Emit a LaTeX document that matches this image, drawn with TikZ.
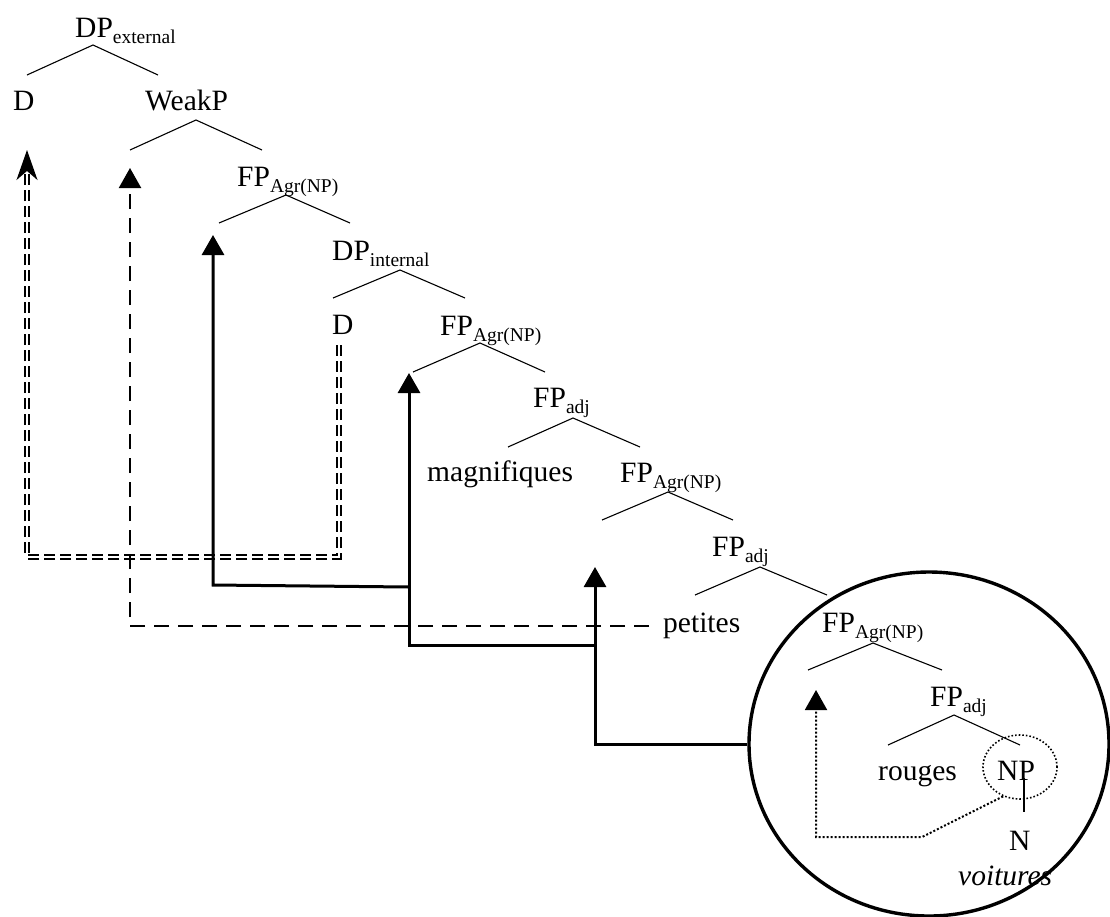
\documentclass[tikz,border=0pt]{standalone}
\usepackage{fontspec}
\setmainfont{Liberation Serif}
\usetikzlibrary{arrows.meta,shapes.geometric}
\newcommand\sbx[1]{\raisebox{-6pt}{\fontsize{19.5}{20}\selectfont #1}}
\tikzset{
  lab/.style={anchor=base west, inner sep=0pt, font=\fontsize{29.5}{30}\selectfont},
  branch/.style={line width=1.1pt},
  thickarr/.style={line width=3pt, -{Triangle[length=20pt,width=22pt]}},
  thickln/.style={line width=3pt},
  dblarr/.style={line width=1.4pt, double, double distance=2.4pt, dash pattern=on 11pt off 5pt, -{Stealth[length=30pt,width=21pt,inset=9pt]}},
  dasharr/.style={line width=2.2pt, dash pattern=on 15pt off 9pt, -{Triangle[length=20pt,width=22pt]}},
  dotarr/.style={line width=2pt, dotted, -{Triangle[length=20pt,width=22pt]}},
}
\begin{document}
\begin{tikzpicture}[x=1pt,y=-1pt]
\useasboundingbox (0,0) rectangle (1110,916);
% text nodes
\node[lab] (dpext) at (75,37) {DP\sbx{external}};
\node[lab] (dext) at (13,110) {D};
\node[lab] (weakp) at (145,110) {WeakP};
\node[lab] (fp1) at (237,186) {FP\sbx{Agr(NP)}};
\node[lab] (dpint) at (332,260) {DP\sbx{internal}};
\node[lab] (dint) at (332,334) {D};
\node[lab] (fp2) at (440,335) {FP\sbx{Agr(NP)}};
\node[lab] (fpadj1) at (533,407) {FP\sbx{adj}};
\node[lab] (magn) at (427,481) {magnifiques};
\node[lab] (fp3) at (620,482) {FP\sbx{Agr(NP)}};
\node[lab] (fpadj2) at (712,556) {FP\sbx{adj}};
\node[lab] (pet) at (663,632) {petites};
\node[lab] (fp4) at (822,632) {FP\sbx{Agr(NP)}};
\node[lab] (fpadj3) at (930,706) {FP\sbx{adj}};
\node[lab] (rou) at (878,780) {rouges};
\node[lab] (np) at (997,780) {NP};
\node[lab] (n) at (1009,850) {N};
\node[lab,font=\fontsize{29.5}{30}\selectfont\itshape] (voit) at (958,885) {voitures};
% tree branches
\foreach \nm/\ax/\ay/\lx/\ly/\rx/\ry in {
  a/93/45/27/75/158/75,
  b/196/120/130/150/262/150,
  c/286/195/219/223/350/223,
  d/400/270/333/298/465/298,
  e/480/343/413/372/545/372,
  f/573/418/508/447/640/447,
  g/668/492/602/520/733/520,
  h/760/567/695/595/827/595,
  i/873/643/808/670/942/670,
  j/954/715/888/745/1020/745}{
  \coordinate (\nm top) at (\ax,\ay);
  \coordinate (\nm L) at (\lx,\ly);
  \coordinate (\nm R) at (\rx,\ry);
  \draw[branch] (\nm L) -- (\nm top) -- (\nm R);
}
\coordinate (npbot) at (1024,778);
\coordinate (ntop) at (1024,812);
\draw[line width=1.6pt] (npbot) -- (ntop);
% circles
\node[draw, line width=3.4pt, ellipse, minimum width=360pt, minimum height=344pt, inner sep=0pt] (big) at (929,744) {};
\node[draw, line width=1.6pt, dotted, ellipse, minimum width=74pt, minimum height=64pt, inner sep=0pt] (small) at (1020,767) {};
% arrow coordinates
\coordinate (tipD) at (27,150);
\coordinate (tipW) at (130,168);
\coordinate (tip1) at (213,235);
\coordinate (tip2) at (409,373);
\coordinate (tip3) at (595,567);
\coordinate (tip4) at (816,690);
\coordinate (dstart) at (339,345);
\coordinate (dcorner) at (339,557);
\coordinate (dleft) at (27,557);
% double dashed D movement
\draw[dblarr] (dstart) -- (dcorner) -- (dleft) -- (tipD);
% dashed petites movement
\coordinate (pstart) at ([xshift=-14pt]pet.west |- 0,626);
\draw[dasharr] (pstart) -- (130,626) -- (tipW);
% thick solid movements
\coordinate (j3) at (595,645);
\coordinate (j2) at (409,587);
\draw[thickarr] (big.west) -| (tip3);
\draw[thickarr] (j3) -| (tip2);
\draw[thickarr] (j2) -- (213,585) -- (tip1);
% dotted NP movement
\coordinate (dotc) at (922,837);
\draw[dotarr] (small.240) -- (dotc) -- (816,837) -- (tip4);
\end{tikzpicture}
\end{document}
